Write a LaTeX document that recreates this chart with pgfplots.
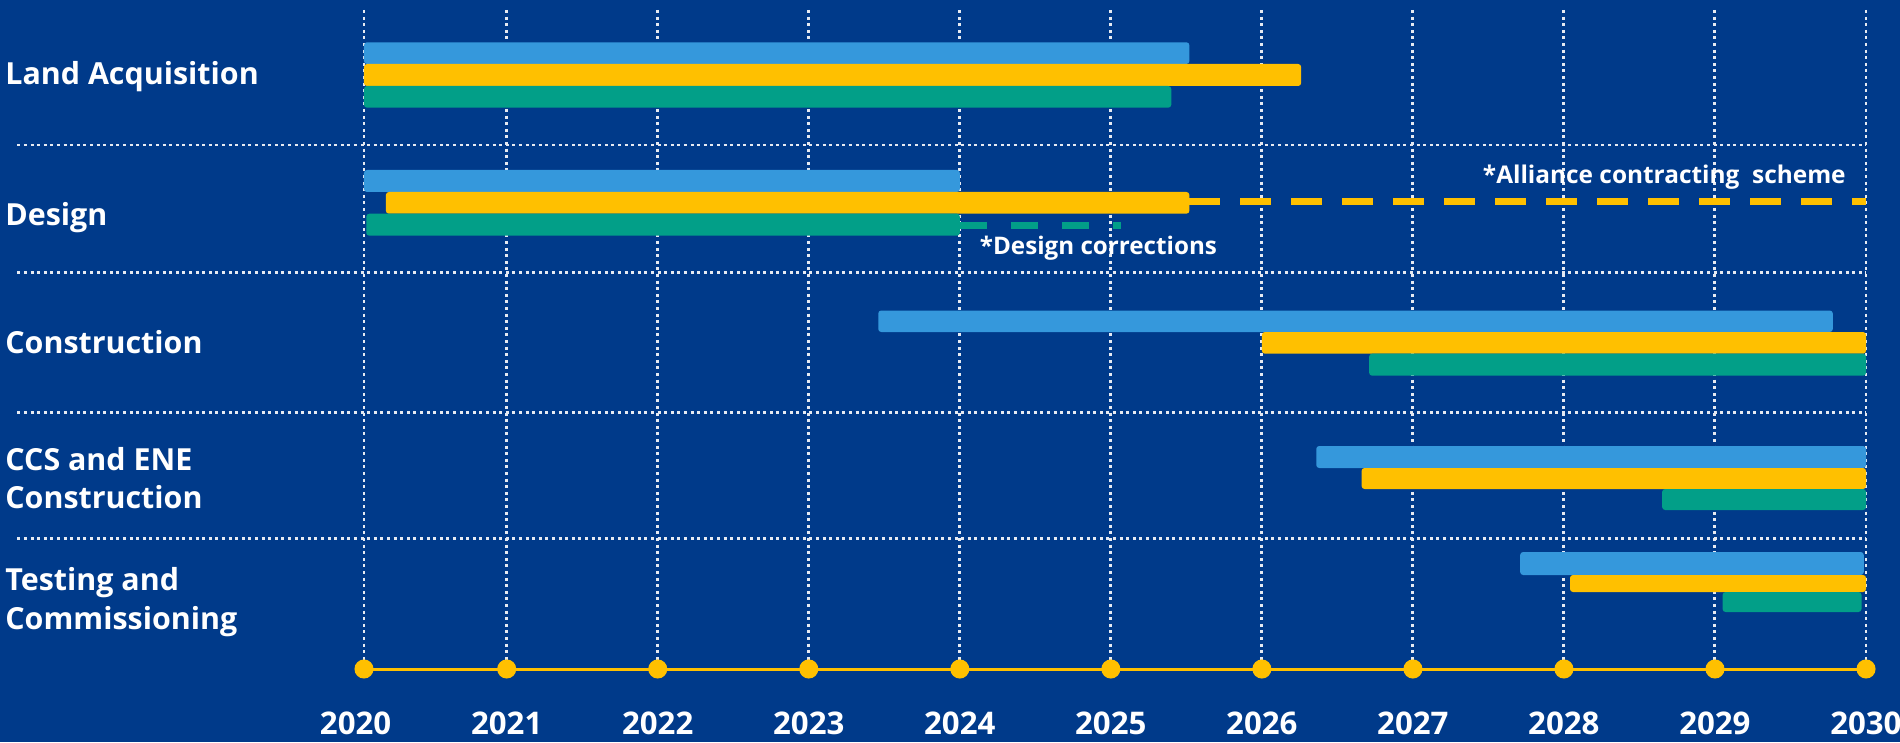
\documentclass[border=0pt]{standalone}
\usepackage{pgfplots}
\pgfplotsset{compat=1.18}
\usepackage{fontspec}
\setmainfont{Open Sans}
\definecolor{bg}{HTML}{003A8A}
\definecolor{cblue}{HTML}{3598DC}
\definecolor{cyellow}{HTML}{FFC000}
\definecolor{cgreen}{HTML}{029F88}
\definecolor{griddot}{HTML}{E6EAF2}
\pagecolor{bg}

% one gantt bar: colour, start, end, top, bottom (y grows downwards)
\newcommand{\gbar}[5]{\addplot[fill=#1, draw=none, rounded corners=1.5pt]
  coordinates {(#2,#4) (#3,#4) (#3,#5) (#2,#5)} -- cycle;}
\newcommand{\sep}[1]{\addplot[griddot, line width=1.4pt, dash pattern=on 1.5pt off 1.8pt]
  coordinates {(2017.76,#1) (2030,#1)};}

\begin{document}
\begin{tikzpicture}
\begin{axis}[
    width=751pt, height=329.5pt, scale only axis,
    xmin=2020.055, xmax=2030, ymin=10, ymax=669, y dir=reverse,
    clip=false,
    axis line style={draw=none},
    major tick length=0pt,
    xtick={2021,2022,...,2030},
    xticklabels={2021,2022,2023,2024,2025,2026,2027,2028,2029,2030},
    extra x ticks={2020.055},
    extra x tick labels={2020},
    extra x tick style={grid=major, xticklabel style={xshift=-4.2pt}},
    xticklabel style={font=\fontsize{15.6}{18}\selectfont\bfseries, text=white,
        anchor=center, inner sep=0pt, yshift=-27pt},
    xmajorgrids,
    grid style={griddot, line width=1.4pt, dash pattern=on 1.5pt off 1.8pt},
    ytick={77,217.5,341.7,477.8,602},
    yticklabels={Land Acquisition, Design, Construction,
        {CCS and ENE\\Construction}, {Testing and\\Commissioning}},
    yticklabel style={font=\fontsize{15.2}{19.15}\selectfont\bfseries, text=white,
        anchor=west, align=left, inner sep=0pt, xshift=-179.5pt},
]
% row separators
\sep{145}
\sep{272.7}
\sep{412.5}
\sep{538.3}

% dashed extensions
\addplot[cyellow, line width=3.5pt, dash pattern=on 15.3pt off 10.2pt]
  coordinates {(2025.52,201.8) (2030,201.8)};
\addplot[cgreen, line width=3.5pt, dash pattern=on 13.7pt off 11.8pt]
  coordinates {(2024,225.8) (2025.07,225.8)};

% Land Acquisition
\gbar{cblue}{2020.055}{2025.52}{42.3}{64}
\gbar{cyellow}{2020.055}{2026.26}{64}{86}
\gbar{cgreen}{2020.055}{2025.40}{86}{107.7}
% Design
\gbar{cblue}{2020.055}{2024}{170}{192}
\gbar{cyellow}{2020.20}{2025.52}{192}{213.7}
\gbar{cgreen}{2020.07}{2024}{213.7}{235.7}
% Construction
\gbar{cblue}{2023.46}{2029.78}{310.5}{332}
\gbar{cyellow}{2026}{2030}{332}{353.7}
\gbar{cgreen}{2026.71}{2030}{353.7}{375.7}
% CCS and ENE Construction
\gbar{cblue}{2026.36}{2030}{446}{468}
\gbar{cyellow}{2026.66}{2030}{468}{489}
\gbar{cgreen}{2028.65}{2030}{489}{510}
% Testing and Commissioning
\gbar{cblue}{2027.71}{2029.985}{552}{575}
\gbar{cyellow}{2028.04}{2030}{575}{592}
\gbar{cgreen}{2029.05}{2029.97}{592}{612}

% timeline
\addplot[cyellow, line width=1.5pt, mark=*, mark size=4pt,
    mark options={draw=none, fill=cyellow}]
  coordinates {(2020.055,669) (2021,669) (2022,669) (2023,669) (2024,669) (2025,669)
               (2026,669) (2027,669) (2028,669) (2029,669) (2030,669)};

\node[anchor=base east, inner sep=0pt, text=white, font=\fontsize{12.2}{14}\selectfont\bfseries]
  at (axis cs:2029.868,183.3) {*Alliance contracting\ \ scheme};
\node[anchor=base west, inner sep=0pt, text=white, font=\fontsize{12.1}{14}\selectfont\bfseries]
  at (axis cs:2024.13,255) {*Design corrections};

\coordinate (bl) at (axis cs:2017.645,742);
\coordinate (tr) at (axis cs:2030.225,0);
\end{axis}
\pgfresetboundingbox
\path[use as bounding box] (bl) rectangle (tr);
\end{tikzpicture}
\end{document}
